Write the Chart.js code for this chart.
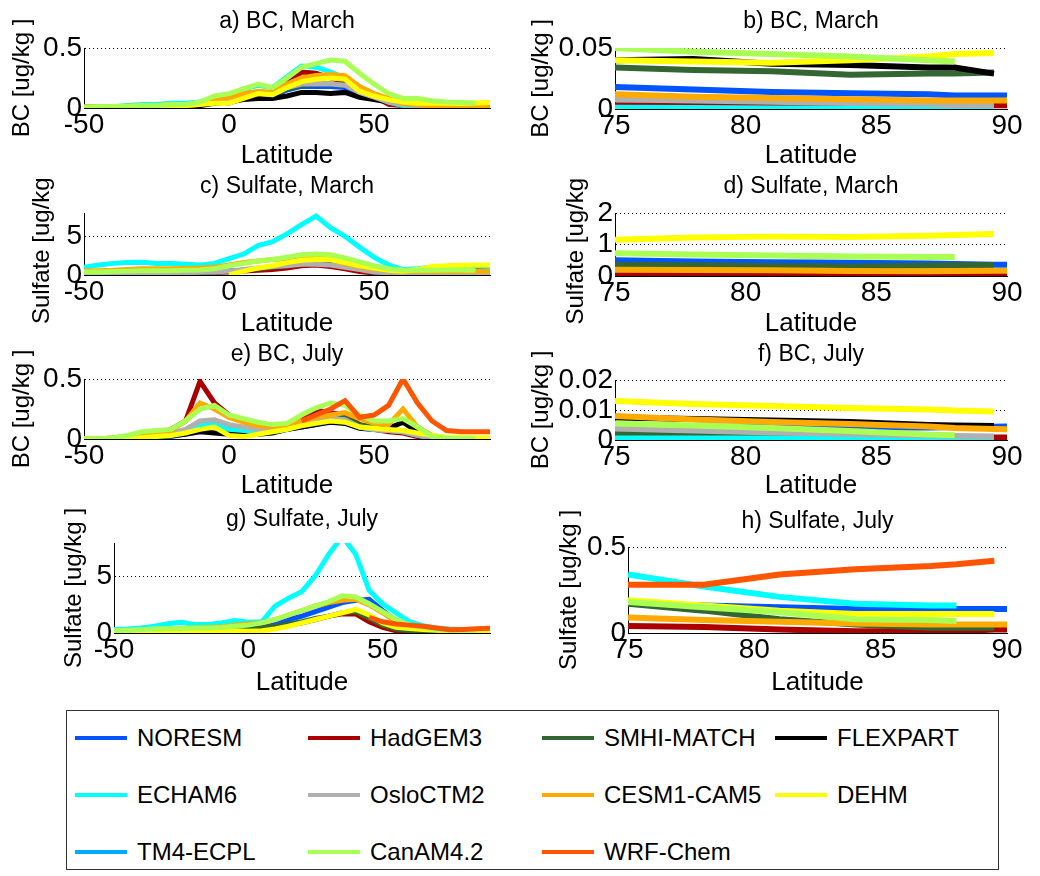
<!DOCTYPE html>
<html>
<head>
<meta charset="utf-8">
<script src="https://cdn.jsdelivr.net/npm/chart.js@4.4.0/dist/chart.umd.min.js"></script>
<style>
  body { margin: 0; background: #fff; width: 1040px; height: 876px; overflow: hidden; position: relative;
         font-family: 'Liberation Sans', Arial, sans-serif; }
  canvas { position: absolute; }
  #legendBox { position: absolute; left: 66px; top: 710px; width: 931px; height: 158px; border: 1px solid #333; }
  .lgLine { position: absolute; width: 52px; height: 4px; }
  .lgText { position: absolute; font-size: 24px; line-height: 28px; color: #000; white-space: nowrap; }
</style>
</head>
<body>
<div id="legendBox"></div>
<script>
// models, in plotting / legend order
const models = ['NORESM', 'HadGEM3', 'SMHI-MATCH', 'FLEXPART', 'ECHAM6', 'OsloCTM2',
                'CESM1-CAM5', 'DEHM', 'TM4-ECPL', 'CanAM4.2', 'WRF-Chem'];
const colors = ['#0055ff', '#aa0000', '#336633', '#000000', '#00ffff', '#b0b0b0',
                '#ffaa00', '#ffff00', '#00aaff', '#aaff55', '#ff5500'];

// latitudes
const latGlobe = [-50,-45,-40,-35,-30,-25,-20,-15,-10,-5,0,5,10,15,20,25,30,35,40,45,50,55,60,65,70,75,80,85,90];
const latArctic = [75, 78, 81, 84, 87, 88, 89.5, 90];
const ticksGlobe = [-50, 0, 50];
const ticksArctic = [75, 80, 85, 90];

// a) BC, March  (one row per model, null = not visible)
const bcMarch = [
  [0,0,0,0,0.005,0.01,0.01,0.015,0.02,0.06,0.04,0.08,0.1,0.1,0.15,0.18,0.18,0.18,0.17,0.12,0.08,0.05,0.03,0.02,0.02,0.017,0.015,0.012,0.011],
  [0,0,0,0,0.005,0.01,0.02,0.02,0.03,0.07,0.08,0.12,0.13,0.1,0.2,0.3,0.29,0.25,0.22,0.15,0.1,0.03,0.02,0.01,0.005,0.003,0.002,0.001,0.002],
  [0.005,0.005,0.01,0.01,0.02,0.02,0.03,0.03,0.04,0.07,0.08,0.1,0.12,0.11,0.16,0.19,0.2,0.2,0.19,0.14,0.1,0.07,0.05,0.04,0.04,0.035,0.032,0.029,0.03],
  [0,0,0,0,0,0.005,0.01,0.01,0.02,0.04,0.05,0.07,0.08,0.08,0.1,0.13,0.13,0.12,0.13,0.09,0.07,0.05,0.06,0.07,0.05,0.04,0.038,0.036,0.029],
  [0.01,0.01,0.01,0.02,0.03,0.03,0.04,0.04,0.05,0.09,0.11,0.16,0.19,0.17,0.26,0.35,0.34,0.3,0.25,0.17,0.1,0.05,0.02,0.01,0.005,0.002,0.001,0.001,0.001],
  [0,0,0,0,0.01,0.01,0.02,0.02,0.03,0.06,0.07,0.1,0.12,0.11,0.17,0.2,0.2,0.2,0.19,0.13,0.09,0.05,0.03,0.02,0.01,0.008,0.006,0.004,0.003],
  [0.01,0.01,0.01,0.015,0.02,0.02,0.03,0.03,0.04,0.08,0.09,0.12,0.14,0.13,0.2,0.25,0.27,0.28,0.27,0.18,0.12,0.08,0.04,0.03,0.02,0.012,0.009,0.007,0.007],
  [0.005,0.005,0.01,0.01,0.01,0.015,0.02,0.02,0.03,0.04,0.04,0.08,0.12,0.11,0.17,0.22,0.24,0.25,0.24,0.14,0.1,0.07,0.05,0.04,0.04,0.04,0.038,0.042,0.046],
  null,
  [0.005,0.01,0.01,0.015,0.02,0.02,0.03,0.03,0.05,0.1,0.12,0.16,0.2,0.17,0.25,0.34,0.37,0.4,0.39,0.29,0.2,0.12,0.08,0.08,0.06,0.05,0.045,0.041,null],
  null
];

// b) BC, March, Arctic
const bcMarchArctic = [
  [0.018,0.016,0.014,0.013,0.012,0.011,0.011,0.011],
  [0.003,0.003,0.002,0.001,0.001,0.002,0.003,0.003],
  [0.034,0.032,0.031,0.028,0.029,0.029,0.03,null],
  [0.04,0.041,0.037,0.036,0.034,0.034,0.029,null],
  [0.001,0.0008,0.0005,0.0005,0.0008,0.001,0.001,null],
  [0.008,0.007,0.006,0.005,0.004,0.003,0.003,null],
  [0.012,0.01,0.009,0.008,0.007,0.007,0.007,0.007],
  [0.04,0.039,0.038,0.04,0.043,0.045,0.046,null],
  null,
  [0.05,0.047,0.045,0.043,0.04,0.039,null,null],
  null
];

// c) Sulfate, March
const sulMarch = [
  [0.3,0.3,0.3,0.3,0.3,0.3,0.3,0.3,0.35,0.4,0.5,0.6,0.8,1.0,1.2,1.4,1.5,1.4,1.1,0.8,0.5,0.3,0.2,0.25,0.4,0.5,0.55,0.6,0.6],
  [0.2,0.2,0.2,0.2,0.2,0.25,0.25,0.3,0.3,0.35,0.4,0.5,0.6,0.7,0.9,1.2,1.3,1.1,0.8,0.45,0.25,0.15,0.1,0.08,0.07,0.07,0.06,0.05,0.05],
  [0.3,0.3,0.3,0.3,0.3,0.3,0.3,0.3,0.35,0.4,0.5,0.6,0.8,1.0,1.2,1.5,1.6,1.5,1.2,0.8,0.5,0.3,0.2,0.25,0.4,0.5,0.55,0.6,0.65],
  null,
  [1.0,1.3,1.5,1.6,1.65,1.5,1.5,1.4,1.3,1.5,2.1,2.7,3.8,4.3,5.3,6.5,7.6,6.1,5.0,3.6,2.3,1.3,0.7,0.8,1.0,1.1,1.2,1.2,1.1],
  [0.2,0.2,0.2,0.25,0.25,0.3,0.3,0.3,0.35,0.4,0.5,0.7,0.9,1.1,1.2,1.4,1.4,1.3,1.0,0.7,0.4,0.25,0.2,0.2,0.2,0.2,0.2,0.2,0.2],
  [0.5,0.55,0.6,0.7,0.8,0.8,0.8,0.85,0.9,1.0,1.3,1.6,1.8,2.0,2.1,2.3,2.3,2.0,1.5,1.1,0.8,0.6,0.5,0.5,0.5,0.5,0.5,0.5,0.5],
  [null,null,null,null,null,null,null,null,null,null,0.0,0.5,0.9,1.2,1.6,1.9,2.0,2.0,1.6,1.2,0.9,0.6,0.5,0.7,1.1,1.2,1.25,1.3,1.3],
  null,
  [0.4,0.4,0.45,0.5,0.55,0.55,0.55,0.6,0.65,0.8,1.2,1.5,1.8,2.0,2.3,2.6,2.7,2.6,2.2,1.7,1.2,0.8,0.6,0.6,0.6,0.65,0.65,0.6,null],
  null
];

// d) Sulfate, March, Arctic
const sulMarchArctic = [
  [0.5,0.46,0.44,0.42,0.4,0.38,0.36,0.36],
  [0.07,0.06,0.06,0.05,0.05,0.05,0.05,0.05],
  [0.36,0.34,0.32,0.3,0.33,0.34,0.35,null],
  null,
  null,
  null,
  [0.2,0.19,0.18,0.16,0.15,0.16,0.17,0.17],
  [1.15,1.22,1.25,1.24,1.28,1.3,1.33,null],
  null,
  [0.72,0.68,0.65,0.62,0.6,0.6,null,null],
  null
];

// e) BC, July
const bcJuly = [
  [0,0,0,0,0.005,0.01,0.02,0.04,0.1,0.1,0.08,0.07,0.06,0.07,0.08,0.1,0.12,0.15,0.15,0.1,0.08,0.07,0.06,0.04,0.01,0.005,0.004,0.004,0.004],
  [0,0,0,0.01,0.02,0.04,0.08,0.15,0.48,0.3,0.2,0.15,0.12,0.1,0.1,0.17,0.24,0.22,0.2,0.12,0.08,0.06,0.05,0.02,0.005,0.001,0.001,0.001,0.001],
  [0,0,0,0.01,0.02,0.03,0.05,0.07,0.12,0.12,0.1,0.09,0.08,0.08,0.1,0.14,0.18,0.2,0.18,0.12,0.1,0.08,0.07,0.04,0.01,0.003,0.002,0.001,0.001],
  [0,0,0,0,0.01,0.02,0.03,0.04,0.06,0.05,0.04,0.04,0.04,0.05,0.08,0.1,0.12,0.14,0.13,0.09,0.08,0.09,0.14,0.06,0.01,0.007,0.006,0.005,0.005],
  [0,0,0,0.01,0.02,0.03,0.05,0.07,0.12,0.12,0.08,0.07,0.06,0.06,0.08,0.12,0.16,0.18,0.15,0.1,0.08,0.07,0.06,0.03,0.01,0.002,0.001,0.001,0.001],
  [0,0,0,0.01,0.02,0.03,0.05,0.08,0.15,0.16,0.12,0.1,0.08,0.08,0.09,0.12,0.15,0.17,0.16,0.1,0.08,0.07,0.06,0.03,0.01,0.004,0.003,0.002,0.002],
  [0,0,0.01,0.02,0.04,0.06,0.07,0.15,0.3,0.25,0.18,0.14,0.11,0.1,0.1,0.15,0.18,0.2,0.22,0.17,0.13,0.12,0.25,0.1,0.03,0.008,0.006,0.005,0.004],
  [0,0,0,0,0.01,0.02,0.03,0.05,0.08,0.1,0.03,0.02,0.04,0.06,0.08,0.11,0.13,0.15,0.14,0.1,0.09,0.08,0.07,0.05,0.03,0.013,0.012,0.01,0.01],
  null,
  [0,0,0.01,0.03,0.06,0.07,0.08,0.15,0.25,0.28,0.2,0.17,0.14,0.12,0.13,0.2,0.26,0.3,0.28,0.2,0.15,0.15,0.17,0.1,0.02,0.005,0.004,0.003,null],
  [null,null,null,null,null,null,null,null,null,null,null,null,null,null,null,0.15,0.2,0.25,0.32,0.18,0.2,0.28,0.5,0.3,0.15,0.07,0.06,0.06,0.06]
];

// f) BC, July, Arctic
const bcJulyArctic = [
  [0.0048,0.0045,0.0043,0.0042,0.0042,0.0043,0.0044,0.0045],
  [0.0008,0.0008,0.0006,0.0004,0.0003,0.0003,0.0008,0.0008],
  [0.0022,0.0016,0.0011,0.0008,0.0006,0.0005,0.0005,null],
  [0.0075,0.007,0.0065,0.006,0.005,0.0048,0.0047,null],
  [0.0005,0.0005,0.0005,0.0005,0.0008,0.001,0.0008,null],
  [0.0038,0.0032,0.0025,0.002,0.0015,0.0013,0.0012,null],
  [0.008,0.0068,0.006,0.0053,0.0045,0.004,0.0037,0.0036],
  [0.013,0.012,0.0113,0.0107,0.0102,0.0098,0.0095,null],
  null,
  [0.0055,0.0048,0.004,0.003,0.0018,0.0016,null,null],
  null
];

// g) Sulfate, July
const sulJuly = [
  [0.1,0.1,0.15,0.2,0.25,0.3,0.3,0.35,0.4,0.5,0.6,0.7,0.9,1.2,1.5,1.9,2.3,2.7,2.9,3.0,2.0,1.1,0.6,0.35,0.25,0.17,0.15,0.14,0.14],
  [0.05,0.05,0.05,0.05,0.05,0.05,0.1,0.1,0.2,0.3,0.35,0.4,0.5,0.7,0.9,1.2,1.5,1.7,1.7,1.0,0.5,0.2,0.05,0.05,0.04,0.04,0.03,0.01,0.02],
  [0.1,0.1,0.1,0.15,0.2,0.2,0.2,0.25,0.3,0.35,0.4,0.5,0.6,0.8,1.0,1.3,1.5,1.8,1.9,1.3,0.7,0.35,0.2,0.18,0.17,0.17,0.1,0.04,0.03],
  null,
  [0.3,0.35,0.45,0.6,0.83,0.95,0.75,0.75,0.9,1.1,0.95,1.0,2.4,3.1,3.7,5.1,7.0,8.6,7.0,3.8,2.6,1.8,1.0,0.65,0.45,0.35,0.3,0.3,0.3],
  null,
  [0.15,0.2,0.25,0.3,0.35,0.4,0.45,0.5,0.55,0.7,0.8,0.9,1.2,1.6,2.0,2.4,2.7,2.9,3.0,2.5,1.8,1.0,0.6,0.4,0.3,0.1,0.07,0.05,0.05],
  [0.1,0.1,0.1,0.1,0.15,0.15,0.2,0.2,0.2,0.2,0.15,0.2,0.35,0.6,0.9,1.2,1.5,1.8,2.1,1.6,0.9,0.5,0.4,0.3,0.25,0.19,0.15,0.11,0.11],
  null,
  [0.2,0.25,0.3,0.35,0.4,0.4,0.45,0.45,0.5,0.6,0.7,0.9,1.2,1.6,2.0,2.4,2.8,3.3,3.2,2.6,1.9,1.2,0.7,0.5,0.3,0.25,0.2,0.15,null],
  [null,null,null,null,null,null,null,null,null,null,null,null,null,null,null,null,null,null,null,1.4,1.0,0.8,0.7,0.6,0.45,0.28,0.32,0.38,0.42]
];

// h) Sulfate, July, Arctic
const sulJulyArctic = [
  [0.17,0.16,0.15,0.14,0.14,0.14,0.14,0.14],
  [0.04,0.035,0.02,0.01,0.01,0.01,0.02,0.02],
  [0.17,0.13,0.08,0.05,0.03,0.03,0.03,null],
  null,
  [0.34,0.27,0.21,0.17,0.16,0.16,null,null],
  null,
  [0.09,0.075,0.065,0.055,0.05,0.05,0.05,0.05],
  [0.19,0.16,0.13,0.11,0.11,0.11,0.11,null],
  null,
  [0.18,0.15,0.12,0.08,0.075,0.07,null,null],
  [0.28,0.28,0.34,0.37,0.39,0.4,0.42,null]
];

Chart.defaults.font.family = "'Liberation Sans', Arial, sans-serif";
Chart.defaults.color = '#000';

function makePanel(p) {
  let cv = document.createElement('canvas');
  let left = p.L - p.W;
  let top = Math.round(p.titleY - 14);
  let width = p.R - left + 25;
  let xH = p.latY - p.B + 16;
  let height = p.B + xH - top;
  cv.width = width;
  cv.height = height;
  cv.style.left = left + 'px';
  cv.style.top = top + 'px';
  document.body.appendChild(cv);

  let datasets = [];
  p.values.forEach((vals, i) => {
    if (!vals) return;
    datasets.push({
      label: models[i],
      data: vals.map((v, j) => ({x: p.lat[j], y: v})),
      borderColor: colors[i],
      backgroundColor: colors[i],
      borderWidth: p.lw,
      pointRadius: 0,
      tension: 0,
      order: -i
    });
  });

  new Chart(cv, {
    type: 'line',
    data: {datasets: datasets},
    options: {
      responsive: false,
      animation: false,
      layout: {padding: {left: 0, right: 25, top: 0, bottom: 0}},
      plugins: {
        legend: {display: false},
        tooltip: {enabled: false},
        title: {
          display: true, text: p.title, fullSize: false,
          font: {size: 23, weight: 'normal'}, color: '#000',
          padding: {top: 0, bottom: p.T - top - 27.6}
        }
      },
      scales: {
        x: {
          type: 'linear', min: p.lat[0], max: p.lat[p.lat.length - 1],
          afterBuildTicks: s => { s.ticks = p.xTicks.map(v => ({value: v})); },
          afterFit: s => { s.height = xH; },
          grid: {display: false, drawTicks: false},
          border: {display: true, color: '#000', width: 1},
          ticks: {padding: 0, font: {size: 28}, color: '#000', maxRotation: 0, autoSkip: false,
                  callback: v => String(v)},
          title: {display: true, text: 'Latitude', font: {size: 26}, color: '#000', padding: 0}
        },
        y: {
          min: 0, max: p.yMax,
          afterBuildTicks: s => { s.ticks = p.yTicks.map(v => ({value: v})); },
          afterFit: s => { s.width = p.W; },
          grid: {color: '#000', lineWidth: 1, drawTicks: false},
          border: {display: true, color: '#000', width: 1, dash: [1, 3]},
          ticks: {padding: 2, font: {size: 28}, color: '#000', autoSkip: false,
                  callback: v => String(v)},
          title: {display: true, text: p.yLabel, font: {size: 24}, color: '#000', padding: 0}
        }
      }
    }
  });
}

makePanel({title: 'a) BC, March', yLabel: 'BC [ug/kg ]', values: bcMarch, lat: latGlobe, xTicks: ticksGlobe, lw: 5,
  yMax: 0.5, yTicks: [0, 0.5], L: 84, R: 490, T: 48, B: 108, W: 76, titleY: 22, latY: 155});
makePanel({title: 'b) BC, March', yLabel: 'BC [ug/kg ]', values: bcMarchArctic, lat: latArctic, xTicks: ticksArctic, lw: 6,
  yMax: 0.05, yTicks: [0, 0.05], L: 615, R: 1007, T: 48, B: 109, W: 88, titleY: 22, latY: 155});
makePanel({title: 'c) Sulfate, March', yLabel: 'Sulfate [ug/kg ]', values: sulMarch, lat: latGlobe, xTicks: ticksGlobe, lw: 5,
  yMax: 8, yTicks: [0, 5], L: 84, R: 490, T: 213, B: 275, W: 56, titleY: 187, latY: 323});
makePanel({title: 'd) Sulfate, March', yLabel: 'Sulfate [ug/kg ]', values: sulMarchArctic, lat: latArctic, xTicks: ticksArctic, lw: 6,
  yMax: 2, yTicks: [0, 1, 2], L: 615, R: 1007, T: 213, B: 276, W: 53, titleY: 187, latY: 323});
makePanel({title: 'e) BC, July', yLabel: 'BC [ug/kg ]', values: bcJuly, lat: latGlobe, xTicks: ticksGlobe, lw: 5,
  yMax: 0.5, yTicks: [0, 0.5], L: 84, R: 490, T: 379, B: 439, W: 76, titleY: 355, latY: 485});
makePanel({title: 'f) BC, July', yLabel: 'BC [ug/kg ]', values: bcJulyArctic, lat: latArctic, xTicks: ticksArctic, lw: 6,
  yMax: 0.02, yTicks: [0, 0.01, 0.02], L: 615, R: 1007, T: 380, B: 440, W: 88, titleY: 355, latY: 485});
makePanel({title: 'g) Sulfate, July', yLabel: 'Sulfate [ug/kg ]', values: sulJuly, lat: latGlobe, xTicks: ticksGlobe, lw: 5,
  yMax: 8, yTicks: [0, 5], L: 114, R: 490, T: 543, B: 633, W: 54, titleY: 520, latY: 682});
makePanel({title: 'h) Sulfate, July', yLabel: 'Sulfate [ug/kg ]', values: sulJulyArctic, lat: latArctic, xTicks: ticksArctic, lw: 6,
  yMax: 0.5, yTicks: [0, 0.5], L: 628, R: 1007, T: 547, B: 633, W: 73, titleY: 522, latY: 682});

// legend, 4 columns filled row by row
const colX = [75, 308, 542, 775];
const rowY = [738, 795, 852];
models.forEach((m, i) => {
  let r = Math.floor(i / 4), c = i % 4;
  let ln = document.createElement('div');
  ln.className = 'lgLine';
  ln.style.left = colX[c] + 'px';
  ln.style.top = (rowY[r] - 2) + 'px';
  ln.style.background = colors[i];
  document.body.appendChild(ln);
  let tx = document.createElement('div');
  tx.className = 'lgText';
  tx.style.left = (colX[c] + 62) + 'px';
  tx.style.top = (rowY[r] - 14) + 'px';
  tx.textContent = m;
  document.body.appendChild(tx);
});
</script>
</body>
</html>
